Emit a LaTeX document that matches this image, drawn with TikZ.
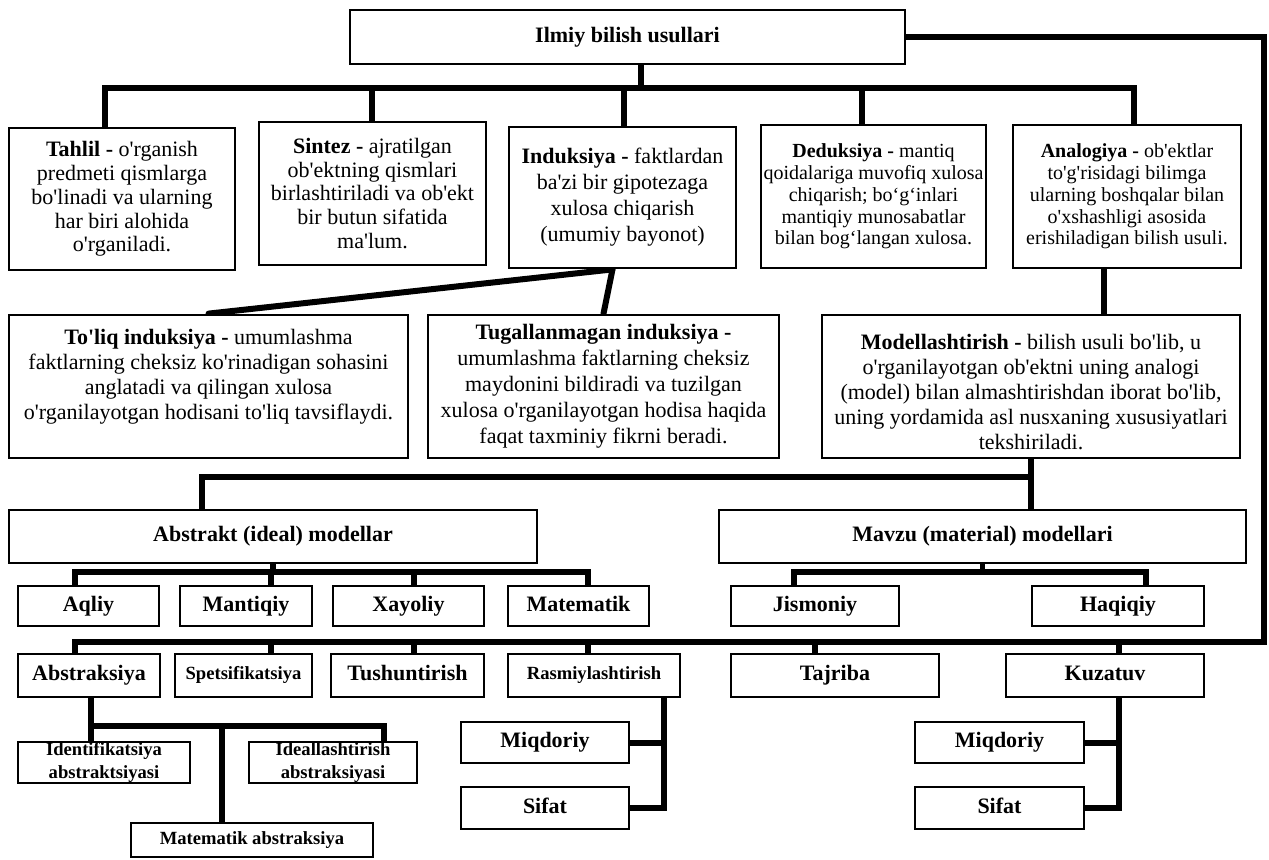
\documentclass[tikz,border=0pt]{standalone}
\usepackage{fontspec}
\setmainfont{Liberation Serif}[Ligatures=TeXOff]
\usetikzlibrary{calc,backgrounds}
\begin{document}
\begin{tikzpicture}[x=0.5pt,y=-0.5pt,
  box/.style={draw=black, line width=1.4pt, fill=white, rectangle, inner sep=0pt, align=center},
  rect/.style n args={4}{minimum width={(#3-#1)*0.5pt}, minimum height={(#4-#2)*0.5pt},
                         at={({(#1+#3)/2},{(#2+#4)/2})}},
  head/.style={font=\fontsize{11}{12}\selectfont\bfseries, text height=7.6pt, text depth=2.4pt},
  minor/.style={font=\fontsize{9.3}{11.5}\selectfont\bfseries, text height=6.4pt, text depth=2pt},
  minortwo/.style={font=\fontsize{9.3}{11.5}\selectfont\bfseries},
  body/.style={font=\fontsize{11}{11.9}\selectfont},
  bodyloose/.style={font=\fontsize{11}{13}\selectfont},
  bodymid/.style={font=\fontsize{11}{12.5}\selectfont},
  note/.style={font=\fontsize{10}{10.9}\selectfont},
  link/.style={line width=3pt, line cap=rect, line join=miter},
  thinlink/.style={line width=2.8pt, line cap=rect, line join=miter}]

% ---------- root ----------
\node[box, rect={350}{10}{905}{64}, head] (top) {Ilmiy bilish usullari};

% ---------- methods ----------
\node[box, rect={9}{128}{235}{270}, body] (tahlil)
  {\textbf{Tahlil -} o'rganish\\predmeti qismlarga\\bo'linadi va ularning\\har biri alohida\\o'rganiladi.};
\node[box, rect={259}{122}{486}{265}, body] (sintez)
  {\textbf{Sintez -} ajratilgan\\ob'ektning qismlari\\birlashtiriladi va ob'ekt\\bir butun sifatida\\ma'lum.};
\node[box, rect={509}{127}{736}{268}, bodyloose] (induk)
  {\textbf{Induksiya -} faktlardan\\ba'zi bir gipotezaga\\xulosa chiqarish\\(umumiy bayonot)};
\node[box, rect={761}{125}{986}{268}, note] (deduk)
  {\textbf{Deduksiya -} mantiq\\qoidalariga muvofiq xulosa\\chiqarish; bo‘g‘inlari\\mantiqiy munosabatlar\\bilan bog‘langan xulosa.};
\node[box, rect={1013}{125}{1241}{268}, note] (analog)
  {\textbf{Analogiya -} ob'ektlar\\to'g'risidagi bilimga\\ularning boshqalar bilan\\o'xshashligi asosida\\erishiladigan bilish usuli.};

% ---------- induction kinds and modelling ----------
\node[box, rect={9}{315}{408}{458}, bodymid] (toliq)
  {\textbf{To'liq induksiya -} umumlashma\\faktlarning cheksiz ko'rinadigan sohasini\\anglatadi va qilingan xulosa\\o'rganilayotgan hodisani to'liq tavsiflaydi.\\\mbox{}};
\node[box, rect={428}{315}{779}{458}, bodyloose] (tugal)
  {\textbf{Tugallanmagan induksiya -}\\umumlashma faktlarning cheksiz\\maydonini bildiradi va tuzilgan\\xulosa o'rganilayotgan hodisa haqida\\faqat taxminiy fikrni beradi.};
\node[box, rect={822}{315}{1240}{458}, bodymid] (model)
  {\rule{0pt}{13.6pt}\textbf{Modellashtirish -} bilish usuli bo'lib, u\\o'rganilayotgan ob'ektni uning analogi\\(model) bilan almashtirishdan iborat bo'lib,\\uning yordamida asl nusxaning xususiyatlari\\tekshiriladi.};

% ---------- model groups ----------
\node[box, rect={9}{510}{537}{563}, head] (abstr) {Abstrakt (ideal) modellar};
\node[box, rect={719}{510}{1246}{563}, head] (mavzu) {Mavzu (material) modellari};

\node[box, rect={18}{586}{159}{626}, head] (aqliy) {Aqliy};
\node[box, rect={180}{586}{312}{626}, head] (mantiq) {Mantiqiy};
\node[box, rect={333}{586}{484}{626}, head] (xayol) {Xayoliy};
\node[box, rect={508}{586}{649}{626}, head] (matem) {Matematik};
\node[box, rect={731}{586}{899}{626}, head] (jism) {Jismoniy};
\node[box, rect={1032}{586}{1204}{626}, head] (haqiq) {Haqiqiy};

% ---------- techniques ----------
\node[box, rect={18}{654}{160}{697}, head] (abstrak) {Abstraksiya};
\node[box, rect={175}{654}{312}{697}, minor] (spets) {Spetsifikatsiya};
\node[box, rect={331}{654}{484}{697}, head] (tush) {Tushuntirish};
\node[box, rect={508}{654}{680}{697}, minor] (rasm) {Rasmiylashtirish};
\node[box, rect={731}{654}{939}{697}, head] (tajr) {Tajriba};
\node[box, rect={1006}{654}{1204}{697}, head] (kuzat) {Kuzatuv};

\node[box, rect={18}{742}{190}{783}, minortwo] (ident) {Identifikatsiya\\abstraktsiyasi};
\node[box, rect={249}{742}{417}{783}, minortwo] (ideal) {Ideallashtirish\\abstraksiyasi};
\node[box, rect={131}{823}{373}{857}, minor] (matabs) {Matematik abstraksiya};

\node[box, rect={461}{722}{629}{763}, head] (miqL) {Miqdoriy};
\node[box, rect={461}{787}{629}{829}, head] (sifL) {Sifat};
\node[box, rect={915}{722}{1084}{763}, head] (miqR) {Miqdoriy};
\node[box, rect={915}{787}{1084}{829}, head] (sifR) {Sifat};

% ---------- connectors (behind the boxes) ----------
\begin{pgfonlayer}{background}
  \fill[white] (0,0) rectangle (1269,859);

  % root to the first row
  \coordinate (trunk) at (641,88);
  \coordinate (barL) at (105,88);
  \coordinate (barR) at (1134,88);
  \draw[link] (trunk |- top.south) -- (trunk);
  \draw[link] (barL) -- (barR);
  \foreach \n/\x in {tahlil/105, sintez/372, induk/624, deduk/862, analog/1134}{
    \coordinate (d-\n) at (\x,88);
    \draw[link] (d-\n) -- (d-\n |- \n.north);
  }

  % root loop on the right, running back along the technique row
  \coordinate (loopR) at (1264,642);
  \coordinate (loopL) at (75,642);
  \draw[link] (top.east) -| (loopR) -- (loopL);

  % induction split
  \coordinate (isplit) at ($(induk.south)+(-10,0)$);
  \draw[line width=3pt, line cap=round] (isplit) -- (toliq.north);
  \draw[line width=3pt, line cap=round] (isplit) -- (tugal.north);

  % analogy to modelling
  \coordinate (am) at (1104,300);
  \draw[link] (am |- analog.south) -- (am |- model.north);

  % modelling to the model groups
  \coordinate (mbar) at (202,477);
  \draw[link] (model.south) -- (model.south |- mavzu.north);
  \draw[link] (mbar -| model.south) -- (mbar) -- (mbar |- abstr.north);

  % abstract models
  \coordinate (asL) at (75,572);
  \coordinate (asR) at (588,572);
  \draw[thinlink] (asL) -- (asR);
  \draw[thinlink] (abstr.south) -- (abstr.south |- asL);
  \foreach \n/\x in {aqliy/75, mantiq/271, xayol/414, matem/588}{
    \coordinate (s-\n) at (\x,572);
    \draw[thinlink] (s-\n) -- (s-\n |- \n.north);
  }

  % material models
  \coordinate (msL) at (794,572);
  \coordinate (msR) at (1146,572);
  \draw[thinlink] (msL) -- (msR);
  \draw[thinlink] (mavzu.south) -- (mavzu.south |- msL);
  \draw[thinlink] (msL) -- (msL |- jism.north);
  \draw[thinlink] (msR) -- (msR |- haqiq.north);

  % techniques hanging from the loop
  \foreach \n/\x in {abstrak/75, spets/271, tush/414, rasm/588, tajr/815, kuzat/1119}{
    \coordinate (t-\n) at (\x,642);
    \draw[thinlink] (t-\n) -- (t-\n |- \n.north);
  }

  % kinds of abstraction
  \coordinate (abA) at (91,726);
  \coordinate (abB) at (222,726);
  \coordinate (abC) at (384,726);
  \draw[link] (abA |- abstrak.south) -- (abA) -- (abC);
  \draw[link] (abA) -- (abA |- ident.north);
  \draw[link] (abB) -- (abB |- matabs.north);
  \draw[link] (abC) -- (abC |- ideal.north);

  % formalisation: quantitative / qualitative
  \coordinate (rv) at (664,700);
  \draw[link] (rv |- rasm.south) -- (rv |- sifL.east) -- (sifL.east);
  \draw[link] (miqL.east) -- (miqL.east -| rv);

  % observation: quantitative / qualitative
  \coordinate (kv) at (1119,700);
  \draw[link] (kv |- kuzat.south) -- (kv |- sifR.east) -- (sifR.east);
  \draw[link] (miqR.east) -- (miqR.east -| kv);
\end{pgfonlayer}

\useasboundingbox (0,0) rectangle (1269,859);
\end{tikzpicture}
\end{document}
